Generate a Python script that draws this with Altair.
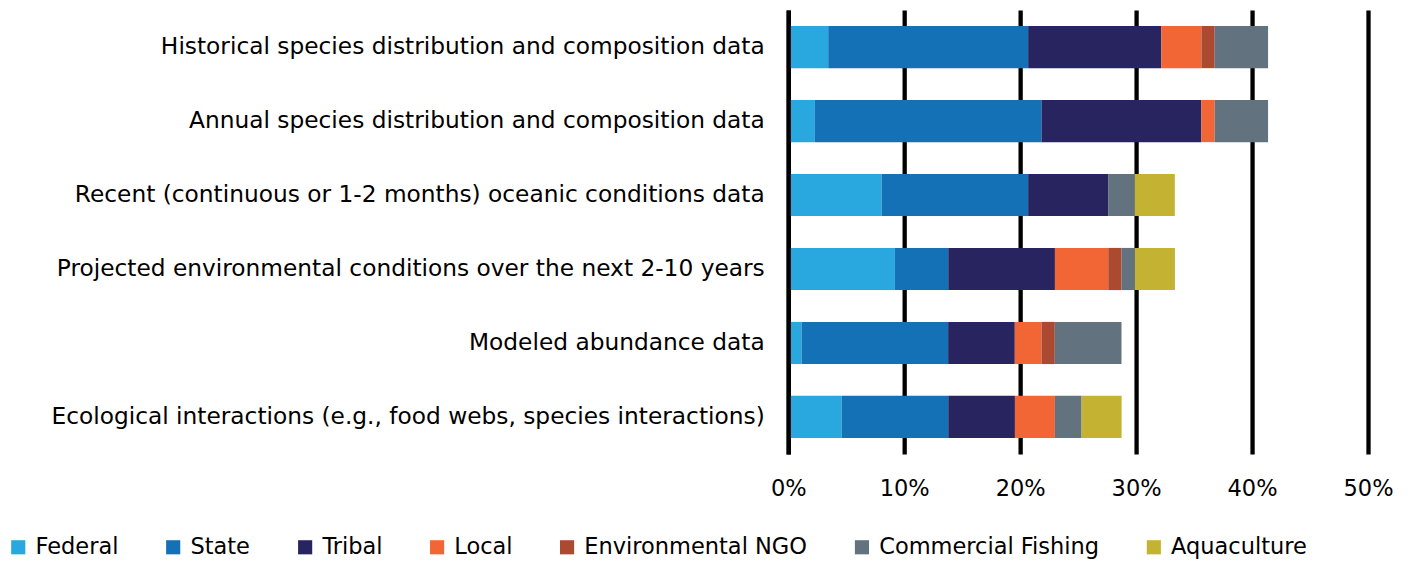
import altair as alt
import pandas as pd

categories = [
    "Historical species distribution and composition data",
    "Annual species distribution and composition data",
    "Recent (continuous or 1-2 months) oceanic conditions data ",
    "Projected environmental conditions over the next 2-10 years",
    "Modeled abundance data ",
    "Ecological interactions (e.g., food webs, species interactions)",
]
series = ["Federal", "State", "Tribal", "Local", "Environmental NGO",
          "Commercial Fishing", "Aquaculture"]
colors = ["#29A8E0", "#1471B6", "#27245F", "#F26535", "#AB4A31",
          "#62737F", "#C4B332"]

# percent values per series (one per category, top to bottom)
federal = [3.45, 2.30, 8.05, 9.20, 1.15, 4.60]
state = [17.24, 19.54, 12.64, 4.60, 12.64, 9.20]
tribal = [11.49, 13.79, 6.90, 9.20, 5.75, 5.75]
local = [3.45, 1.15, 0.0, 4.60, 2.30, 3.45]
engo = [1.15, 0.0, 0.0, 1.15, 1.15, 0.0]
commercial = [4.60, 4.60, 2.30, 1.15, 5.75, 2.30]
aquaculture = [0.0, 0.0, 3.45, 3.45, 0.0, 3.45]

values = [federal, state, tribal, local, engo, commercial, aquaculture]

rows = []
for si, (s, vals) in enumerate(zip(series, values)):
    for c, v in zip(categories, vals):
        rows.append({"category": c, "series": s, "value": v, "order": si})
df = pd.DataFrame(rows)

FONT = "DejaVu Sans"

chart = alt.Chart(df).mark_bar().encode(
    y=alt.Y("category:N", sort=categories, title=None,
            scale=alt.Scale(paddingInner=0.43, paddingOuter=0.215),
            axis=alt.Axis(labelFontSize=23.3, labelFont=FONT, labelColor="#000",
                          labelPadding=24, labelLimit=800, ticks=False,
                          domain=True, domainColor="#000", domainWidth=4.3,
                          zindex=1)),
    x=alt.X("value:Q", stack="zero", title=None,
            scale=alt.Scale(domain=[0, 50], nice=False),
            axis=alt.Axis(values=[0, 10, 20, 30, 40, 50],
                          labelExpr="datum.value + '%'",
                          labelFontSize=22.5, labelFont=FONT, labelColor="#000",
                          labelPadding=24, labelFlush=False,
                          ticks=False, domain=False,
                          grid=True, gridColor="#000", gridWidth=4.3,
                          gridOpacity=1)),
    color=alt.Color("series:N", scale=alt.Scale(domain=series, range=colors),
                    legend=alt.Legend(orient="none", direction="horizontal",
                                      legendX=-781.5, legendY=526, title=None,
                                      padding=0,
                                      symbolType="square", symbolSize=200,
                                      symbolStrokeWidth=0,
                                      labelFontSize=22.5, labelFont=FONT,
                                      labelColor="#000", labelOffset=6,
                                      columnPadding=43, labelLimit=400)),
    order=alt.Order("order:Q"),
).properties(
    width=580, height=444,
    autosize=alt.AutoSizeParams(type="none"),
    padding={"left": 780.5, "top": 2, "right": 35, "bottom": 106},
).configure_view(stroke=None)

chart.save("out.html", embed_options={"renderer": "svg", "actions": False})
